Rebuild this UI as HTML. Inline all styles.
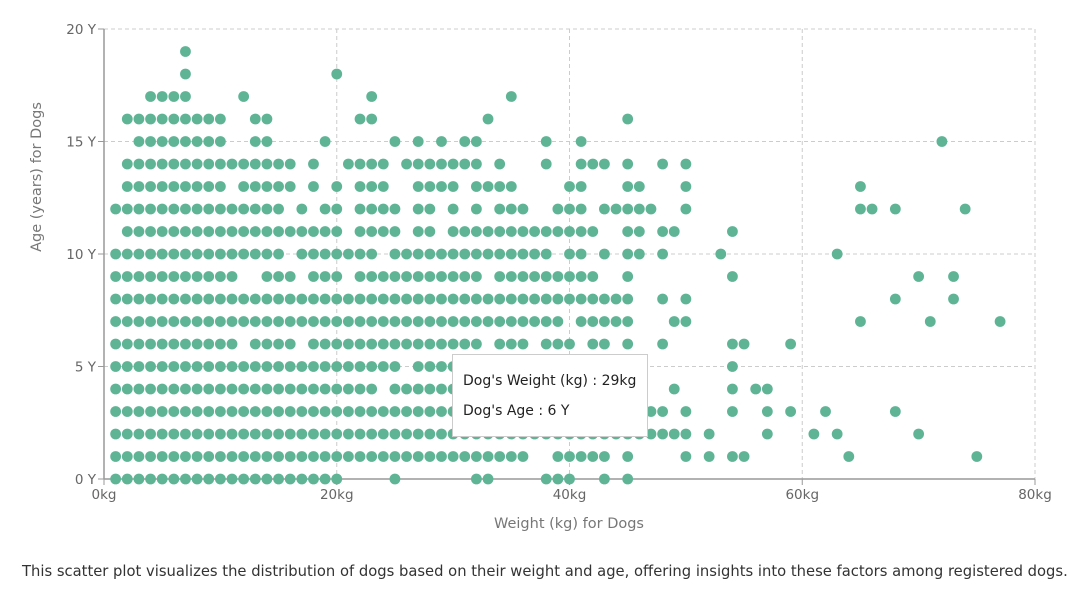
<!DOCTYPE html>
<html><head><meta charset="utf-8"><style>
body{margin:0;background:#fff;width:1085px;height:590px;overflow:hidden;font-family:"DejaVu Sans","Liberation Sans",sans-serif;}
#cap{position:absolute;left:22px;top:563px;font-size:14.75px;color:#333;white-space:nowrap;}
#tip{position:absolute;left:452px;top:354px;width:196px;height:83px;background:#fff;border:1px solid #ccc;box-sizing:border-box;font-size:14px;color:#222;}
#tip div{position:absolute;left:10px;}
</style></head><body>
<svg id="chart" width="1085" height="590" style="position:absolute;left:0;top:0;font-family:'DejaVu Sans','Liberation Sans',sans-serif"></svg>
<div id="tip"><div style="top:18px">Dog's Weight (kg) : 29kg</div><div style="top:48px">Dog's Age : 6 Y</div></div>
<div id="cap">This scatter plot visualizes the distribution of dogs based on their weight and age, offering insights into these factors among registered dogs.</div>
<script>
const xTicks=[0,20,40,60,80];
const yTicks=[0,5,10,15,20];
const ages=[0,1,2,3,4,5,6,7,8,9,10,11,12,13,14,15,16,17,18,19];
const w0=[1,2,3,4,5,6,7,8,9,10,11,12,13,14,15,16,17,18,19,20,25,32,33,38,39,40,43,45];
const w1=[1,2,3,4,5,6,7,8,9,10,11,12,13,14,15,16,17,18,19,20,21,22,23,24,25,26,27,28,29,30,31,32,33,34,35,36,39,40,41,42,43,45,50,52,54,55,64,75];
const w2=[1,2,3,4,5,6,7,8,9,10,11,12,13,14,15,16,17,18,19,20,21,22,23,24,25,26,27,28,29,30,31,32,33,34,35,36,37,38,39,40,41,42,43,44,45,46,47,48,49,50,52,57,61,63,70];
const w3=[1,2,3,4,5,6,7,8,9,10,11,12,13,14,15,16,17,18,19,20,21,22,23,24,25,26,27,28,29,30,31,32,33,34,35,36,37,38,39,40,41,42,43,44,45,47,48,50,54,57,59,62,68];
const w4=[1,2,3,4,5,6,7,8,9,10,11,12,13,14,15,16,17,18,19,20,21,22,23,25,26,27,28,29,30,31,32,33,34,35,36,37,38,39,40,41,42,43,44,45,49,54,56,57];
const w5=[1,2,3,4,5,6,7,8,9,10,11,12,13,14,15,16,17,18,19,20,21,22,23,24,25,27,28,29,30,31,32,33,34,35,36,37,38,39,40,41,42,43,44,54];
const w6=[1,2,3,4,5,6,7,8,9,10,11,13,14,15,16,18,19,20,21,22,23,24,25,26,27,28,29,30,31,32,34,35,36,38,39,40,42,43,45,48,54,55,59];
const w7=[1,2,3,4,5,6,7,8,9,10,11,12,13,14,15,16,17,18,19,20,21,22,23,24,25,26,27,28,29,30,31,32,33,34,35,36,37,38,39,41,42,43,44,45,49,50,65,71,77];
const w8=[1,2,3,4,5,6,7,8,9,10,11,12,13,14,15,16,17,18,19,20,21,22,23,24,25,26,27,28,29,30,31,32,33,34,35,36,37,38,39,40,41,42,43,44,45,48,50,68,73];
const w9=[1,2,3,4,5,6,7,8,9,10,11,14,15,16,18,19,20,22,23,24,25,26,27,28,29,30,31,32,34,35,36,37,38,39,40,41,42,45,54,70,73];
const w10=[1,2,3,4,5,6,7,8,9,10,11,12,13,14,15,17,18,19,20,21,22,23,25,26,27,28,29,30,31,32,33,34,35,36,37,38,40,41,43,45,46,48,53,63];
const w11=[2,3,4,5,6,7,8,9,10,11,12,13,14,15,16,17,18,19,20,22,23,24,25,27,28,30,31,32,33,34,35,36,37,38,39,40,41,42,45,46,48,49,54];
const w12=[1,2,3,4,5,6,7,8,9,10,11,12,13,14,15,17,19,20,22,23,24,25,27,28,30,32,34,35,36,39,40,41,43,44,45,46,47,50,65,66,68,74];
const w13=[2,3,4,5,6,7,8,9,10,12,13,14,15,16,18,20,22,23,24,27,28,29,30,32,33,34,35,40,41,45,46,50,65];
const w14=[2,3,4,5,6,7,8,9,10,11,12,13,14,15,16,18,21,22,23,24,26,27,28,29,30,31,32,34,38,41,42,43,45,48,50];
const w15=[3,4,5,6,7,8,9,10,13,14,19,25,27,29,31,32,38,41,72];
const w16=[2,3,4,5,6,7,8,9,10,13,14,22,23,33,45];
const w17=[4,5,6,7,12,23,35];
const w18=[7,20];
const w19=[7];
const weightsByAge=[w0,w1,w2,w3,w4,w5,w6,w7,w8,w9,w10,w11,w12,w13,w14,w15,w16,w17,w18,w19];

const NS="http://www.w3.org/2000/svg";
const svg=document.getElementById('chart');
const X0=104,X1=1035,Y0=479,Y1=29;
function xs(v){return X0+(v-0)/(80-0)*(X1-X0);}
function ys(v){return Y0-(v-0)/(20-0)*(Y0-Y1);}
function mk(t,a){const e=document.createElementNS(NS,t);for(const k in a)e.setAttribute(k,a[k]);svg.appendChild(e);return e;}

xTicks.forEach(t=>{
  if(t>0){const g=mk('line',{x1:xs(t),x2:xs(t),y1:Y1,y2:Y0,stroke:'#ccc','stroke-dasharray':'4,3'});
  
  }
  const tk=mk('line',{x1:xs(t),x2:xs(t),y1:Y0,y2:Y0+6,stroke:'#999'});
  
  
  const l=mk('text',{x:xs(t),y:Y0+20,'text-anchor':'middle','font-size':'13.5',fill:'#666'});
  l.textContent=t+'kg';
  
  
});
yTicks.forEach(t=>{
  if(t>0){const g=mk('line',{x1:X0,x2:X1,y1:ys(t),y2:ys(t),stroke:'#ccc','stroke-dasharray':'4,3'});
  
  }
  const tk=mk('line',{x1:X0-6,x2:X0,y1:ys(t),y2:ys(t),stroke:'#999'});
  
  
  const l=mk('text',{x:X0-8,y:ys(t)+5,'text-anchor':'end','font-size':'13.5',fill:'#666'});
  l.textContent=t+' Y';
  
  
});
const rb=mk('line',{x1:X1,x2:X1,y1:Y1,y2:Y0,stroke:'#ccc','stroke-dasharray':'4,3'});


const ya=mk('line',{x1:X0,x2:X0,y1:Y1,y2:Y0,stroke:'#999','stroke-width':1.5});


const xa=mk('line',{x1:X0,x2:X1,y1:Y0,y2:Y0,stroke:'#999','stroke-width':1.5});



ages.forEach((a,i)=>{
  weightsByAge[i].forEach(w=>{
    const c=mk('circle',{cx:xs(w),cy:ys(a),r:5.4,fill:'#5fb496'});
    
    
  });
});

const xt=mk('text',{x:569,y:528,'text-anchor':'middle','font-size':'14.5',fill:'#777'});
xt.textContent='Weight (kg) for Dogs';


const yt=mk('text',{x:0,y:0,'text-anchor':'middle','font-size':'14.5',fill:'#777',transform:'translate(41,177) rotate(-90)'});
yt.textContent='Age (years) for Dogs';


</script>
</body></html>
